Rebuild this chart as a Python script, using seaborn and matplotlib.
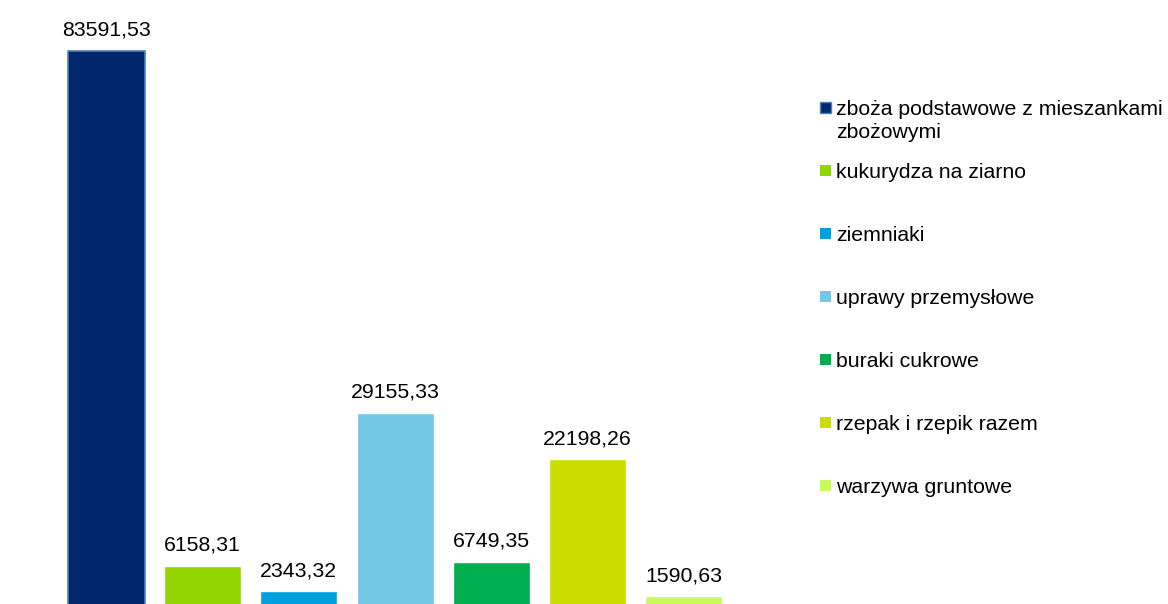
import matplotlib
matplotlib.use("Agg")
import matplotlib.pyplot as plt
import seaborn as sns
from matplotlib.patches import Rectangle

categories = [
    "zboża podstawowe z mieszankami\nzbożowymi",
    "kukurydza na ziarno",
    "ziemniaki",
    "uprawy przemysłowe",
    "buraki cukrowe",
    "rzepak i rzepik razem",
    "warzywa gruntowe",
]
values = [83591.53, 6158.31, 2343.32, 29155.33, 6749.35, 22198.26, 1590.63]
colors = ["#00286F", "#93D500", "#00A0DF", "#72C7E6", "#00AE50", "#C9DD00", "#C8FA5C"]

sns.set_theme(style="white")
plt.rcParams["font.family"] = ["Liberation Sans", "DejaVu Sans"]

W, H = 1168, 604
fig = plt.figure(figsize=(W / 100, H / 100), dpi=100)
fig.patch.set_facecolor("white")

# axes: bar centers at 106.5 + 96.2*i px, baseline ~607 px
ax = fig.add_axes([58.4 / W, -3 / H, 673.4 / W, 607 / H])
sns.barplot(x=list(range(len(values))), y=values, hue=list(range(len(values))),
            palette=colors, legend=False, saturation=1, width=0.8, ax=ax)
ax.set_xlim(-0.5, 6.5)
ax.set_ylim(0, 607 / 0.00665)
ax.axis("off")

# outline on first bar
ax.patches[0].set_edgecolor("#4F7FC0")
ax.patches[0].set_linewidth(1.2)

fs = 15.3
for i, v in enumerate(values):
    ax.annotate(f"{v:.2f}".replace(".", ","), xy=(i, v), xytext=(0, 11),
                textcoords="offset points", ha="center", va="baseline",
                fontsize=fs, color="black")

# legend (manual layout)
baselines = [115, 178, 241, 304, 367, 430, 493]
for i, (lab, c) in enumerate(zip(categories, colors)):
    yb = baselines[i]
    sq = Rectangle(((820) / W, 1 - (yb - 2) / H), 11 / W, 11 / H,
                   transform=fig.transFigure, facecolor=c,
                   edgecolor="#4F7FC0" if i == 0 else c, linewidth=1 if i == 0 else 0)
    fig.patches.append(sq)
    lines = lab.split("\n")
    for j, ln in enumerate(lines):
        fig.text(836 / W, 1 - (yb + 23 * j) / H, ln, ha="left", va="baseline",
                 fontsize=fs, color="black")

fig.savefig("out.png", dpi=100, facecolor="white")
